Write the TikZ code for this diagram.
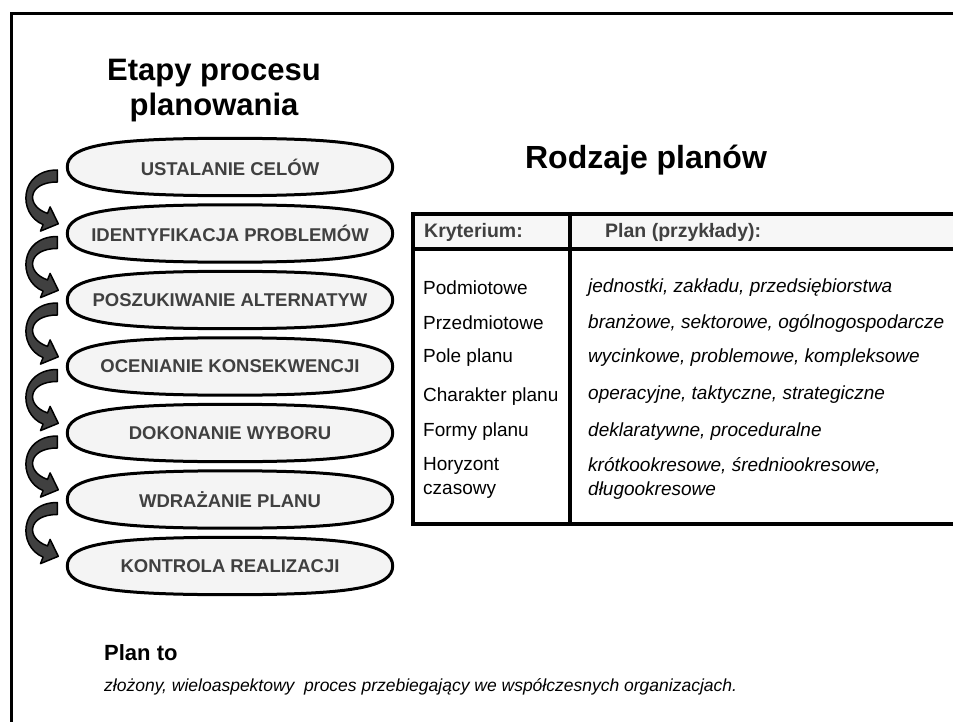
\documentclass[tikz,border=0pt]{standalone}
\usepackage{fontspec}
\setmainfont{Liberation Sans}
\usetikzlibrary{calc,backgrounds}
\definecolor{stagegray}{HTML}{404040}
\definecolor{stagefill}{HTML}{F4F4F4}

\tikzset{
  stage/.style={minimum width=325pt, minimum height=57pt, inner sep=0pt, text=stagegray,
    font=\fontsize{18.5}{22}\selectfont\bfseries},
  stageshape/.style={draw=black, fill=stagefill, line width=3pt},
  bendarrow/.style={draw=black, fill=stagegray, line width=1.5pt, line join=round},
  tablerule/.style={line width=4pt},
  keycell/.style={anchor=west, inner sep=0pt, align=left, font=\fontsize{19}{24}\selectfont},
  plancell/.style={keycell, font=\fontsize{19}{24}\selectfont\itshape},
  headcell/.style={anchor=west, inner sep=0pt, text=stagegray,
    font=\fontsize{19.5}{22}\selectfont\bfseries},
}

\begin{document}
\begin{tikzpicture}[x=1pt, y=-1pt]
    \useasboundingbox (0,0) rectangle (953,722);
    % slide frame
    \draw[line width=3pt] (11,722) -- (11,14) -- (953,14);

    % Stages of planning
    \node[font=\fontsize{31}{35}\selectfont\bfseries, align=center] (etapy) at (214,91) {Etapy procesu\\planowania};

    \node[stage] (s1) at (230,167) {USTALANIE CELÓW};
    \node[stage] (s2) at (230,233.5) {IDENTYFIKACJA PROBLEMÓW};
    \node[stage] (s3) at (230,300) {POSZUKIWANIE ALTERNATYW};
    \node[stage] (s4) at (230,366.5) {OCENIANIE KONSEKWENCJI};
    \node[stage] (s5) at (230,433) {DOKONANIE WYBORU};
    \node[stage] (s6) at (230,499.5) {WDRAŻANIE PLANU};
    \node[stage] (s7) at (230,566) {KONTROLA REALIZACJI};

    % rounded outlines behind the stage texts
    \begin{scope}[on background layer]
        \foreach \s in {s1,s2,s3,s4,s5,s6,s7}
            \filldraw[stageshape] (\s.west) .. controls +(0,-21.4) and +(-122,0) .. (\s.north)
                .. controls +(122,0) and +(0,-21.4) .. (\s.east)
                .. controls +(0,21.4) and +(122,0) .. (\s.south)
                .. controls +(-122,0) and +(0,21.4) .. (\s.west) -- cycle;
    \end{scope}

    % bent arrows between stages
    \foreach \a/\b in {s1/s2, s2/s3, s3/s4, s4/s5, s5/s6, s6/s7}
        \filldraw[bendarrow] ($(\a.west)+(-10,3)$)
            .. controls ($(\a.west)+(-48,3)$) and ($(\b.west)+(-50,-19.5)$) .. ($(\b.west)+(-24.2,-8.9)$)
            -- ($(\b.west)+(-26.8,-2.4)$) -- ($(\b.west)+(-9,-9.7)$) -- ($(\b.west)+(-17.2,-26.6)$)
            -- ($(\b.west)+(-19.8,-20.1)$)
            .. controls ($(\b.west)+(-42,-27.5)$) and ($(\a.west)+(-40,15)$) .. ($(\a.west)+(-10,15)$)
            -- cycle;

    % Types of plans
    \node[font=\fontsize{32}{36}\selectfont\bfseries] (rodzaje) at (646,160) {Rodzaje planów};

    \fill[gray!6] (413,214) rectangle (953,249);
    \draw[tablerule] (411,214) -- (953,214);
    \draw[tablerule] (411,249) -- (953,249);
    \draw[tablerule] (411,524) -- (953,524);
    \draw[tablerule] (413,212) -- (413,526);
    \draw[tablerule] (570,212) -- (570,526);

    \node[headcell] (hk) at (424,232) {Kryterium:};
    \node[headcell] (hp) at (605,232) {Plan (przykłady):};

    \node[keycell] (k1) at (423,288) {Podmiotowe};
    \node[keycell] (k2) at (423,323) {Przedmiotowe};
    \node[keycell] (k3) at (423,358) {Pole planu};
    \node[keycell] (k4) at (423,397) {Charakter planu};
    \node[keycell] (k5) at (423,432) {Formy planu};
    \node[keycell] (k6) at (423,478) {Horyzont\\czasowy};

    \node[plancell] (p1) at (588,288) {jednostki, zakładu, przedsiębiorstwa};
    \node[plancell] (p2) at (588,323) {branżowe, sektorowe, ogólnogospodarcze};
    \node[plancell] (p3) at (588,358) {wycinkowe, problemowe, kompleksowe};
    \node[plancell] (p4) at (588,395) {operacyjne, taktyczne, strategiczne};
    \node[plancell] (p5) at (588,432) {deklaratywne, proceduralne};
    \node[plancell] (p6) at (588,478) {krótkookresowe, średniookresowe,\\długookresowe};

    % Definition
    \node[anchor=west, inner sep=0pt, font=\fontsize{22}{24}\selectfont\bfseries] (planto) at (104,653) {Plan to};
    \node[anchor=west, inner sep=0pt, font=\fontsize{17.5}{22}\selectfont\itshape] (def) at (104,687)
        {złożony, wieloaspektowy~ proces przebiegający we współczesnych organizacjach.};
\end{tikzpicture}
\end{document}
